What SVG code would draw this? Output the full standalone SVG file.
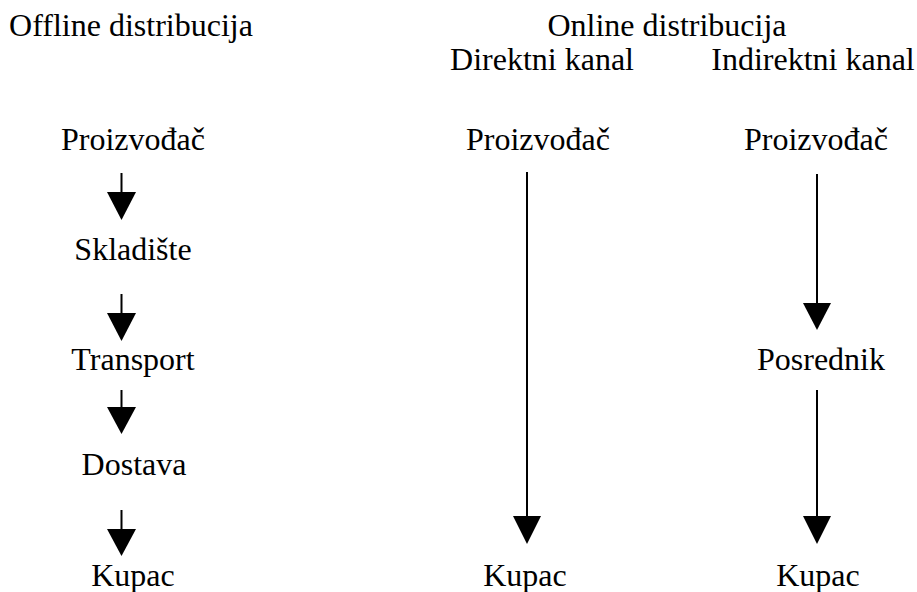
<svg xmlns="http://www.w3.org/2000/svg" width="917" height="592" viewBox="0 0 917 592">
<style>
text{font-family:"Liberation Serif","Times New Roman",serif;font-size:32px;fill:#000;text-anchor:middle}
.ln{stroke:#000;stroke-width:2;fill:none}
.hd{fill:#000}
</style>
<rect width="917" height="592" fill="#fff"/>
<g id="headers">
<text x="131" y="36">Offline distribucija</text>
<text x="667" y="36">Online distribucija</text>
<text x="542" y="70">Direktni kanal</text>
<text x="813" y="70">Indirektni kanal</text>
</g>
<g id="n-off-proizvodjac"><text x="133" y="150">Proizvođač</text></g>
<g id="n-off-skladiste"><text x="133" y="260">Skladište</text></g>
<g id="n-off-transport"><text x="133" y="370">Transport</text></g>
<g id="n-off-dostava"><text x="134" y="475">Dostava</text></g>
<g id="n-off-kupac"><text x="133" y="586">Kupac</text></g>
<g id="n-dir-proizvodjac"><text x="538" y="150">Proizvođač</text></g>
<g id="n-dir-kupac"><text x="525" y="586">Kupac</text></g>
<g id="n-ind-proizvodjac"><text x="816" y="150">Proizvođač</text></g>
<g id="n-ind-posrednik"><text x="821" y="370">Posrednik</text></g>
<g id="n-ind-kupac"><text x="818" y="586">Kupac</text></g>
<g id="connectors">
<line class="ln" x1="121.5" y1="173" x2="121.5" y2="194"/>
<polygon class="hd" points="107,192 136,192 121.5,220"/>
<line class="ln" x1="121.5" y1="294" x2="121.5" y2="315"/>
<polygon class="hd" points="107,313 136,313 121.5,341"/>
<line class="ln" x1="121.5" y1="390" x2="121.5" y2="409"/>
<polygon class="hd" points="107,407 136,407 121.5,434"/>
<line class="ln" x1="121.5" y1="510" x2="121.5" y2="531"/>
<polygon class="hd" points="107,529 136,529 121.5,556"/>
<line class="ln" x1="527" y1="172" x2="527" y2="518"/>
<polygon class="hd" points="513,516 541,516 527,544"/>
<line class="ln" x1="817" y1="174" x2="817" y2="305"/>
<polygon class="hd" points="803,303 831,303 817,330"/>
<line class="ln" x1="817" y1="390" x2="817" y2="518"/>
<polygon class="hd" points="803,516 831,516 817,544"/>
</g>
</svg>
